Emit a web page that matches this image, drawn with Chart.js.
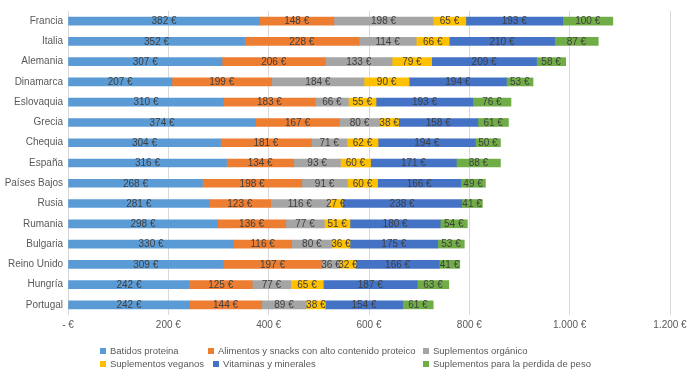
<!DOCTYPE html>
<html>
<head>
<meta charset="utf-8">
<script src="https://cdn.jsdelivr.net/npm/chart.js@4"></script>
<style>
  html, body { margin: 0; padding: 0; background: #fff; }
  #wrap { width: 700px; height: 373px; position: relative; }
</style>
</head>
<body>
<div id="wrap"><canvas id="grafico"></canvas></div>
<script>
const paises = ['Francia', 'Italia', 'Alemania', 'Dinamarca', 'Eslovaquia', 'Grecia', 'Chequia', 'España',
  'Países Bajos', 'Rusia', 'Rumania', 'Bulgaria', 'Reino Unido', 'Hungría', 'Portugal'];
const batidos    = [382, 352, 307, 207, 310, 374, 304, 316, 268, 281, 298, 330, 309, 242, 242];
const alimentos  = [148, 228, 206, 199, 183, 167, 181, 134, 198, 123, 136, 116, 197, 125, 144];
const organico   = [198, 114, 133, 184, 66, 80, 71, 93, 91, 116, 77, 80, 36, 77, 89];
const veganos    = [65, 66, 79, 90, 55, 38, 62, 60, 60, 27, 51, 36, 32, 65, 38];
const vitaminas  = [193, 210, 209, 194, 193, 158, 194, 171, 166, 238, 180, 175, 166, 187, 154];
const perdida    = [100, 87, 58, 53, 76, 61, 50, 88, 49, 41, 54, 53, 41, 63, 61];
const ticksEje   = [0, 200, 400, 600, 800, 1000, 1200];

const FUENTE = "'Liberation Sans', Arial, sans-serif";

function euros(v) {
  if (v === 0) return '- €';
  return String(v).replace(/\B(?=(\d{3})+(?!\d))/g, '.') + ' €';
}

const series = [
  { label: 'Batidos proteina', data: batidos, color: '#5B9BD5', lx: 103, ly: 351 },
  { label: 'Alimentos y snacks con alto contenido proteico', data: alimentos, color: '#ED7D31', lx: 211, ly: 351 },
  { label: 'Suplementos orgánico', data: organico, color: '#A5A5A5', lx: 426, ly: 351 },
  { label: 'Suplementos veganos', data: veganos, color: '#FFC000', lx: 103, ly: 364 },
  { label: 'Vitaminas y minerales', data: vitaminas, color: '#4472C4', lx: 216, ly: 364 },
  { label: 'Suplementos para la perdida de peso', data: perdida, color: '#70AD47', lx: 426, ly: 364 }
];

// etiquetas dentro de cada tramo
const etiquetas = {
  id: 'etiquetas',
  afterDatasetsDraw(chart) {
    const ctx = chart.ctx;
    ctx.save();
    ctx.font = '10px ' + FUENTE;
    ctx.fillStyle = '#404040';
    ctx.textAlign = 'center';
    ctx.textBaseline = 'middle';
    chart.data.datasets.forEach((ds, i) => {
      chart.getDatasetMeta(i).data.forEach((el, j) => {
        ctx.fillText(euros(ds.data[j]), (el.x + el.base) / 2, el.y + 0.5);
      });
    });
    ctx.restore();
  }
};

// leyenda en dos filas como la original
const leyenda = {
  id: 'leyenda',
  afterDraw(chart) {
    const ctx = chart.ctx;
    ctx.save();
    ctx.font = '9.5px ' + FUENTE;
    ctx.textBaseline = 'middle';
    ctx.textAlign = 'left';
    series.forEach(s => {
      ctx.fillStyle = s.color;
      ctx.fillRect(s.lx - 3, s.ly - 3, 6, 6);
      ctx.fillStyle = '#595959';
      ctx.fillText(s.label, s.lx + 7, s.ly);
    });
    ctx.restore();
  }
};

new Chart(document.getElementById('grafico'), {
  type: 'bar',
  data: {
    labels: paises,
    datasets: series.map(s => ({
      label: s.label,
      data: s.data,
      backgroundColor: s.color,
      barThickness: 8
    }))
  },
  options: {
    indexAxis: 'y',
    responsive: true,
    maintainAspectRatio: false,
    animation: false,
    layout: { padding: { left: 0, right: 30, top: 6, bottom: 38 } },
    plugins: {
      legend: { display: false },
      tooltip: { enabled: false }
    },
    scales: {
      x: {
        stacked: true,
        min: 0,
        max: 1200,
        afterBuildTicks: s => { s.ticks = ticksEje.map(v => ({ value: v })); },
        afterFit: s => { s.height = 20; },
        grid: { color: '#D9D9D9', drawTicks: false },
        border: { display: false },
        ticks: {
          padding: 4,
          color: '#595959',
          font: { size: 10, family: FUENTE },
          callback: v => euros(v)
        }
      },
      y: {
        stacked: true,
        afterFit: s => { s.width = 68; },
        grid: { display: false, drawTicks: false },
        border: { display: false },
        ticks: {
          padding: 5,
          color: '#595959',
          font: { size: 10, family: FUENTE }
        }
      }
    }
  },
  plugins: [etiquetas, leyenda]
});
</script>
</body>
</html>
